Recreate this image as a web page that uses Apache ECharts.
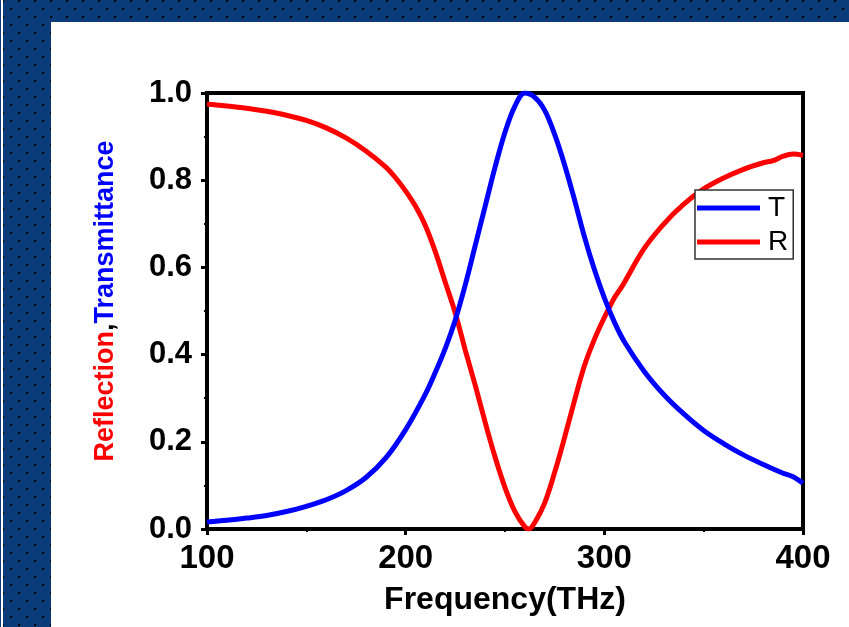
<!DOCTYPE html>
<html>
<head>
<meta charset="utf-8">
<script src="https://cdn.jsdelivr.net/npm/echarts@6/dist/echarts.min.js"></script>
<style>
  html, body { margin: 0; padding: 0; width: 849px; height: 627px; overflow: hidden; }
  #frame {
    position: absolute; left: 0; top: 0; width: 849px; height: 627px;
    background-color: #0c3b7a;
    background-image: url("data:image/svg+xml,%3Csvg xmlns='http://www.w3.org/2000/svg' width='16' height='16'%3E%3Crect x='2' y='0' width='2' height='2' fill='%23000'/%3E%3Crect x='10' y='8' width='2' height='2' fill='%23000'/%3E%3C/svg%3E");
  }
  #edge { position: absolute; left: 1px; top: 0; width: 2px; height: 627px; background: #fff; }
  #panel { position: absolute; left: 51px; top: 22px; right: 0; bottom: 0; background: #fff; }
  #chart { position: absolute; left: 0; top: 0; width: 849px; height: 627px; }
</style>
</head>
<body>
<div id="frame"></div>
<div id="edge"></div>
<div id="panel"></div>
<div id="chart"></div>
<script>
// Frequency sampling points (THz)
const freqT = [100, 110, 120, 130, 140, 150, 160, 170, 180, 190, 200, 210, 215, 220, 225, 230, 235, 240, 245, 250, 255, 260, 265, 270, 275, 280, 285, 290, 295, 300, 305, 310, 320, 330, 340, 350, 360, 370, 380, 390, 395, 400];
// Transmittance
const transT = [0.016, 0.020, 0.025, 0.031, 0.040, 0.052, 0.067, 0.088, 0.118, 0.163, 0.228, 0.31, 0.36, 0.415, 0.48, 0.56, 0.65, 0.74, 0.83, 0.91, 0.97, 1.0, 0.99, 0.96, 0.905, 0.835, 0.755, 0.67, 0.595, 0.53, 0.475, 0.43, 0.362, 0.308, 0.264, 0.226, 0.196, 0.17, 0.148, 0.128, 0.12, 0.105];

const freqR = [100, 110, 120, 130, 140, 150, 160, 170, 180, 190, 195, 200, 205, 210, 215, 220, 225, 230, 235, 240, 245, 250, 255, 260, 262, 265, 270, 275, 280, 285, 290, 295, 300, 305, 308, 310, 320, 330, 340, 350, 360, 370, 380, 385, 390, 395, 400];
// Reflection
const reflR = [0.975, 0.97, 0.965, 0.958, 0.949, 0.937, 0.92, 0.897, 0.867, 0.83, 0.805, 0.775, 0.74, 0.695, 0.635, 0.565, 0.495, 0.41, 0.33, 0.245, 0.165, 0.095, 0.04, 0.005, 0.0, 0.015, 0.06, 0.13, 0.21, 0.295, 0.375, 0.435, 0.485, 0.53, 0.55, 0.565, 0.643, 0.70, 0.745, 0.78, 0.805, 0.825, 0.84, 0.845, 0.855, 0.86, 0.857];

const seriesNames = ['T', 'R'];
const xTicks = { min: 100, max: 400, step: 100 };
const yTicks = { min: 0, max: 1, step: 0.2 };

const font = 'Arial, "Liberation Sans", sans-serif';
const chart = echarts.init(document.getElementById('chart'), null, { renderer: 'canvas' });

const axisLine = { show: true, onZero: false, lineStyle: { color: '#000', width: 4 } };
const majorTick = { show: true, inside: false, length: 6, lineStyle: { color: '#000', width: 3 } };
const minorTick = { show: true, splitNumber: 2, length: 3, lineStyle: { color: '#000', width: 2 } };

chart.setOption({
  animation: false,
  grid: {
    left: 207, right: 46, top: 93, bottom: 98,
    show: true, borderColor: '#000', borderWidth: 4, backgroundColor: 'transparent'
  },
  legend: {
    data: seriesNames,
    orient: 'vertical',
    left: 695, top: 190,
    backgroundColor: '#fff',
    borderColor: '#333', borderWidth: 1.5,
    padding: [4, 5, 3, 2],
    itemWidth: 63, itemHeight: 5, itemGap: 6,
    icon: 'rect',
    textStyle: { fontFamily: font, fontSize: 28, color: '#000', padding: [0, 0, 0, 3] }
  },
  xAxis: {
    type: 'value',
    min: xTicks.min, max: xTicks.max, interval: xTicks.step,
    name: 'Frequency(THz)',
    nameLocation: 'middle', nameGap: 55,
    nameTextStyle: { fontFamily: font, fontSize: 32, fontWeight: 'bold', color: '#000' },
    axisLine: axisLine,
    axisTick: majorTick,
    minorTick: minorTick,
    splitLine: { show: false },
    axisLabel: { margin: 13, fontFamily: font, fontSize: 33, fontWeight: 'bold', color: '#000' }
  },
  yAxis: {
    type: 'value',
    min: yTicks.min, max: yTicks.max, interval: yTicks.step,
    name: '{r|Reflection}{c|,}{t|Transmittance}',
    nameLocation: 'middle', nameGap: 88, nameRotate: 90,
    nameTextStyle: {
      fontFamily: font, fontSize: 27, fontWeight: 'bold',
      padding: [0, 0, 0, 20],
      rich: {
        r: { color: '#ff0000', fontFamily: font, fontSize: 27, fontWeight: 'bold' },
        c: { color: '#000', fontFamily: font, fontSize: 27, fontWeight: 'bold' },
        t: { color: '#0000ff', fontFamily: font, fontSize: 27, fontWeight: 'bold' }
      }
    },
    axisLine: axisLine,
    axisTick: majorTick,
    minorTick: minorTick,
    splitLine: { show: false },
    axisLabel: {
      margin: 15, fontFamily: font, fontSize: 31, fontWeight: 'bold', color: '#000',
      formatter: v => v.toFixed(1)
    }
  },
  series: [
    {
      name: seriesNames[0], type: 'line', smooth: 0.35, showSymbol: false,
      data: freqT.map((f, i) => [f, transT[i]]),
      lineStyle: { color: '#0000ff', width: 5 }, itemStyle: { color: '#0000ff' }, z: 3
    },
    {
      name: seriesNames[1], type: 'line', smooth: 0.35, showSymbol: false,
      data: freqR.map((f, i) => [f, reflR[i]]),
      lineStyle: { color: '#ff0000', width: 5 }, itemStyle: { color: '#ff0000' }, z: 2
    }
  ]
});
</script>
</body>
</html>
